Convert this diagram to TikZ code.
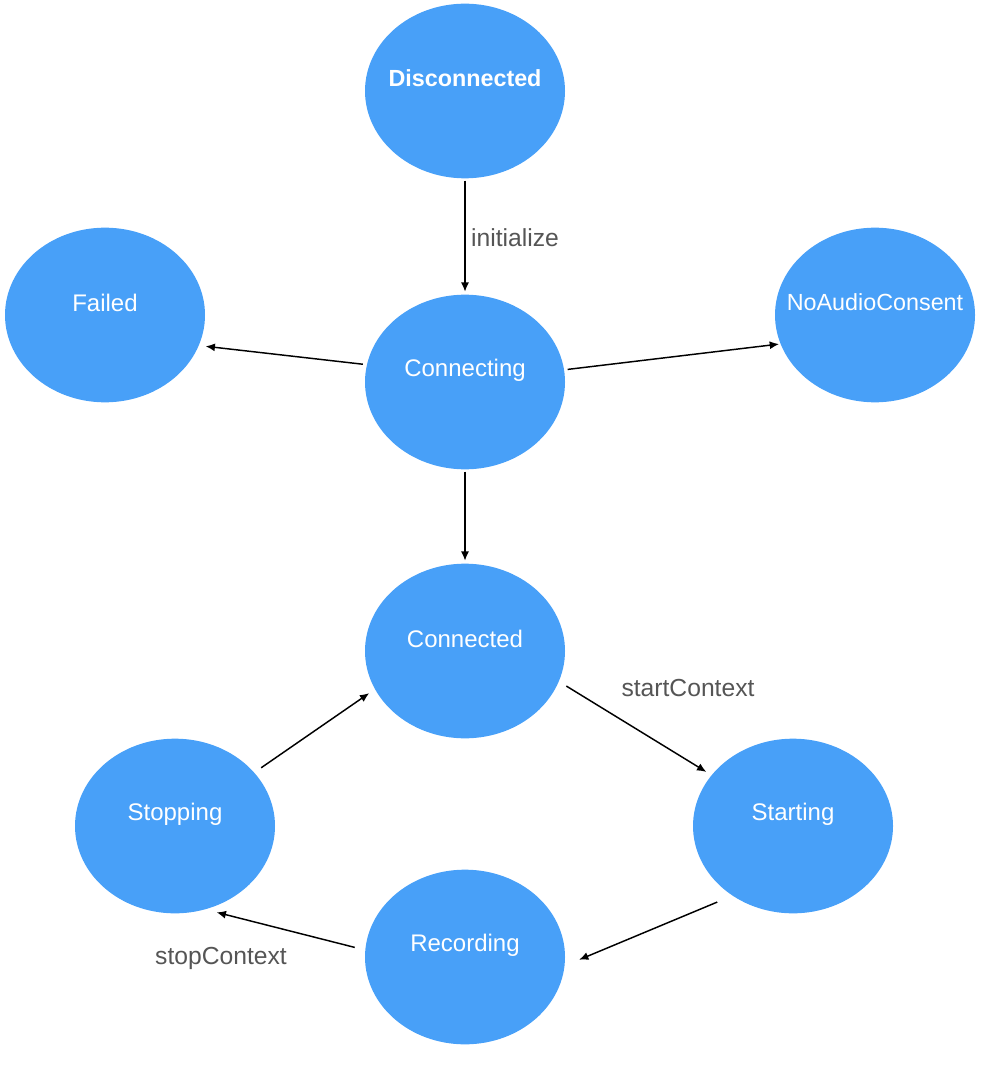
\documentclass[tikz,border=0pt]{standalone}
\usepackage{fontspec}
\setmainfont{Liberation Sans}
\usetikzlibrary{arrows.meta,shapes.geometric}
\definecolor{stateblue}{RGB}{72,160,248}
\definecolor{labelgray}{RGB}{85,85,85}
\tikzset{
    state/.style={ellipse, fill=stateblue, draw=none, minimum width=150pt, minimum height=131pt, inner sep=0pt},
    state text/.style={text=white, font=\fontsize{18}{21}\selectfont},
    state name/.style={label={[state text, yshift=9pt]center:#1}},
    trans/.style={-{Latex[length=7pt,width=6pt]}, line width=1.1pt, black},
    trans label/.style={text=labelgray, font=\fontsize{18.5}{22}\selectfont}
}

\begin{document}
\begin{tikzpicture}[x=0.75pt, y=-0.75pt]
	\useasboundingbox (0,0) rectangle (984,1080);
	% states
	\node[state, label={[state text, font=\fontsize{17.5}{20}\selectfont\bfseries, yshift=9.5pt]center:Disconnected}] (disc) at (465,91) {};
	\node[state, state name=Failed] (fail) at (105,315) {};
	\node[state, state name=Connecting] (conn) at (465,382) {};
	\node[state, label={[state text, font=\fontsize{17.5}{20}\selectfont, yshift=9.5pt]center:NoAudioConsent}] (noaudio) at (875,315) {};
	\node[state, state name=Connected] (cted) at (465,651) {};
	\node[state, state name=Stopping] (stop) at (175,826) {};
	\node[state, state name=Starting] (start) at (793,826) {};
	\node[state, state name=Recording] (rec) at (465,957) {};
	% transitions
	\draw[trans, shorten <=1.5pt, shorten >=2pt] (disc.south) -- (conn.north);
	\draw[trans, shorten <=2.9pt, shorten >=5pt] (conn.170.4) -- (fail.-18.5);
	\draw[trans, shorten <=2.5pt, shorten >=1pt] (conn.7.8) -- (noaudio.-163.6);
	\draw[trans, shorten <=1.5pt, shorten >=2pt] (conn.south) -- (cted.north);
	\draw[trans, shorten <=6.5pt, shorten >=4.5pt] (cted.-18) -- (start.148.7);
	\draw[trans, shorten <=12.3pt, shorten >=11.6pt] (start.229.3) -- (rec.-5.2);
	\draw[trans, shorten <=8pt, shorten >=8.7pt] (rec.176.4) -- (stop.-70.3);
	\draw[trans, shorten <=6.2pt, shorten >=5.1pt] (stop.34.8) -- (cted.-157.7);
	% labels
	\node[trans label] (initlbl) at (515,238) {initialize};
	\node[trans label] (startlbl) at (688,688) {startContext};
	\node[trans label] (stoplbl) at (221,958) {stopContext};
\end{tikzpicture}
\end{document}
